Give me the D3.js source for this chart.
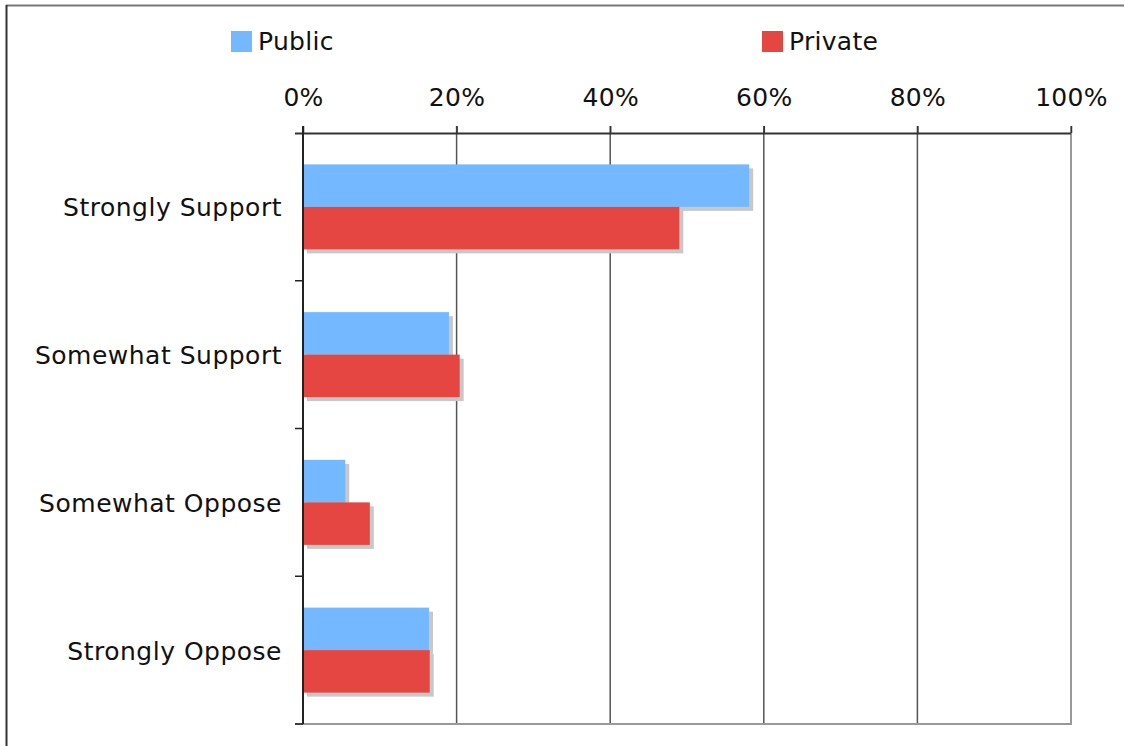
<!DOCTYPE html>
<html><head><meta charset="utf-8">
<script src="https://cdn.jsdelivr.net/npm/d3@7"></script>
<style>body{margin:0;background:#fff}svg{display:block}text{font-family:"DejaVu Sans",sans-serif;fill:#111}</style>
</head><body>
<svg id="c" width="1125" height="746"></svg>
<script>
const categories = ["Strongly Support", "Somewhat Support", "Somewhat Oppose", "Strongly Oppose"];
const seriesNames = ["Public", "Private"];
const publicValues = [58.1, 19.0, 5.5, 16.4];
const privateValues = [49.0, 20.4, 8.7, 16.5];
const tickValues = [0, 20, 40, 60, 80, 100];
const colors = ["#74b9ff", "#e54641"];

const svg = d3.select("#c");
const x = d3.scaleLinear().domain([0, 100]).range([303, 1071]);
const y = d3.scaleBand().domain(categories).range([133, 724]).paddingInner(0).paddingOuter(0);
const barH = 42.5;

// outer frame
svg.append("line").attr("x1", 6).attr("x2", 1124).attr("y1", 5.5).attr("y2", 5.5).attr("stroke", "#777").attr("stroke-width", 2);
svg.append("line").attr("x1", 6.5).attr("x2", 6.5).attr("y1", 5).attr("y2", 746).attr("stroke", "#333").attr("stroke-width", 2);

// gridlines
svg.append("g").selectAll("line").data(tickValues.slice(1, -1)).join("line")
  .attr("x1", d => x(d)).attr("x2", d => x(d)).attr("y1", 126).attr("y2", 724)
  .attr("stroke", "#555").attr("stroke-width", 1.5);
// right edge
svg.append("line").attr("x1", x(100)).attr("x2", x(100)).attr("y1", 126).attr("y2", 725)
  .attr("stroke", "#999").attr("stroke-width", 2);
// bottom line
svg.append("line").attr("x1", 295).attr("x2", x(100) + 1).attr("y1", 724).attr("y2", 724)
  .attr("stroke", "#999").attr("stroke-width", 2);

// bars
const rows = categories.map((c, i) => ({c, vals: [publicValues[i], privateValues[i]]}));
const g = svg.append("g");
rows.forEach(r => {
  const top = y(r.c) + y.bandwidth() / 2 - barH;
  r.vals.forEach((v, j) => {
    g.append("rect").attr("x", x(0) + 4).attr("y", top + j * barH + 4)
      .attr("width", x(v) - x(0)).attr("height", barH).attr("fill", "#c8c8c8");
  });
  r.vals.forEach((v, j) => {
    g.append("rect").attr("x", x(0)).attr("y", top + j * barH)
      .attr("width", x(v) - x(0)).attr("height", barH).attr("fill", colors[j]);
  });
});

// top axis
const xAxis = d3.axisTop(x).tickValues(tickValues).tickFormat(d => d + "%").tickSize(7).tickPadding(20);
const ax = svg.append("g").attr("transform", "translate(0,133)").call(xAxis);
ax.select(".domain").attr("d", `M295,0.5H${x(100)}`).attr("stroke", "#333").attr("stroke-width", 2);
ax.selectAll(".tick line").attr("stroke", "#333").attr("stroke-width", 1.5);
ax.selectAll(".tick text").attr("font-size", 25).attr("font-family", "DejaVu Sans").attr("fill", "#111")
  .attr("letter-spacing", 0.3);

// left axis
const yAxis = d3.axisLeft(y).tickSize(0).tickPadding(21);
const ay = svg.append("g").attr("transform", "translate(303,0)").call(yAxis);
ay.select(".domain").attr("d", "M0,126V724").attr("stroke", "#222").attr("stroke-width", 2);
ay.selectAll(".tick text").attr("font-size", 25).attr("font-family", "DejaVu Sans").attr("fill", "#111")
  .attr("letter-spacing", 0.5).attr("dy", "0.38em");
// category boundary ticks
const bounds = categories.slice(1).map(c => y(c)).concat([724]);
svg.append("g").selectAll("line").data(bounds).join("line")
  .attr("x1", 295).attr("x2", 303).attr("y1", d => d).attr("y2", d => d)
  .attr("stroke", "#222").attr("stroke-width", 1.5);

// legend
const legendX = [231, 762];
seriesNames.forEach((n, i) => {
  svg.append("rect").attr("x", legendX[i]).attr("y", 31).attr("width", 21).attr("height", 21).attr("fill", colors[i]);
  svg.append("text").attr("x", legendX[i] + 27).attr("y", 50).attr("font-size", 25).attr("letter-spacing", 0.3).text(n);
});
</script>
</body></html>
